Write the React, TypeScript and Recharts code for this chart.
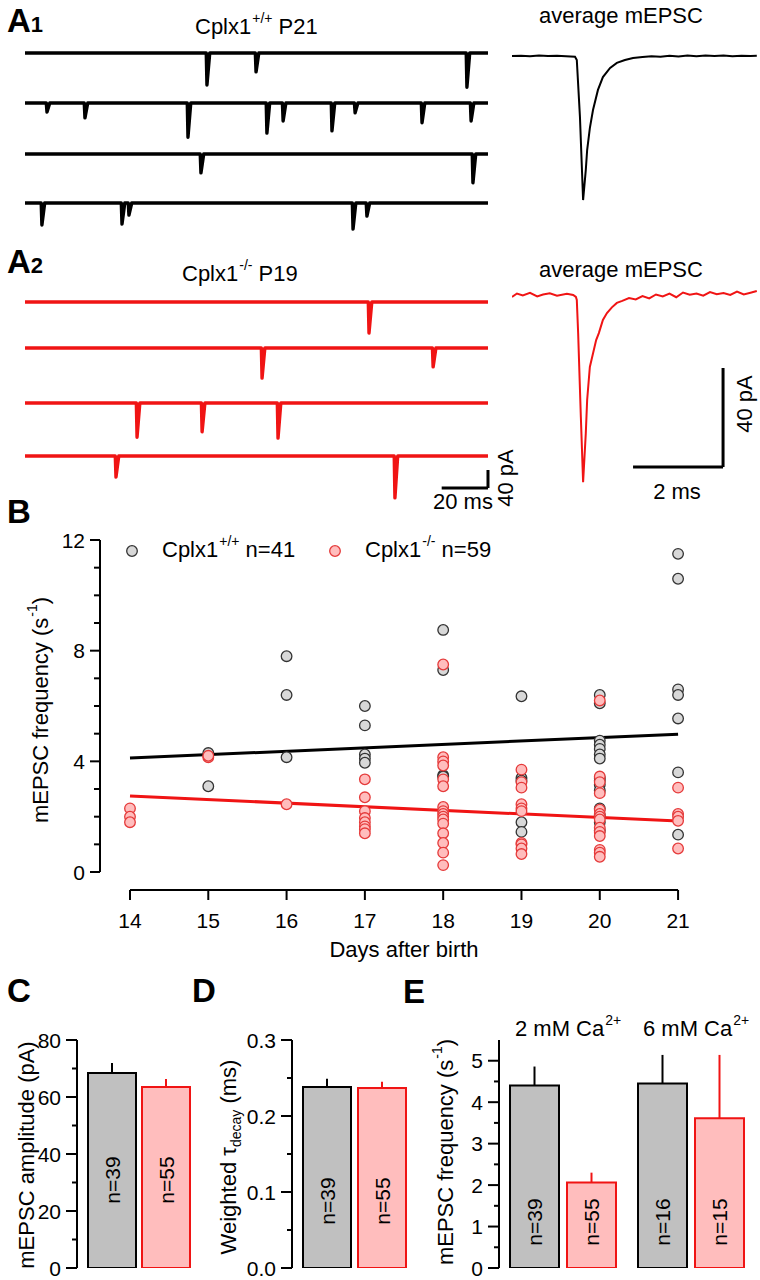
import React from "react";
import {
  LineChart,
  Line,
  XAxis,
  YAxis,
  ReferenceLine,
  ScatterChart,
  Scatter,
  BarChart,
  Bar,
  ErrorBar,
  LabelList,
} from "recharts";

const FONT = "Arial, 'Liberation Sans', Helvetica, sans-serif";
const RED = "#f01414";
const RED_DOT = "#e53a3a";
const RED_FILL = "#ffbdbd";
const GREY_FILL = "#c0c0c0";
const DOT_GREY = "#d8d8d8";

// ---------- A: example traces (event time in ms, amplitude in pA) ----------
const TRACE_MS = 200;
const wtEventTimes = [
  [78.6, 99.8, 190.9],
  [9.5, 25.9, 70.4, 104.5, 111.5, 132.6, 142.6, 171.5, 192.7],
  [76.0, 193.5],
  [7.3, 41.9, 44.9, 141.7, 147.7],
];
const wtEventAmps = [
  [71, 42, 76],
  [20, 33, 76, 67, 40, 62, 22, 44, 40],
  [42, 64],
  [49, 47, 27, 58, 29],
];
const koEventTimes = [[148.6], [102.4, 176.3], [48.4, 76.5, 109.3], [39.3, 159.8]];
const koEventAmps = [[69], [67, 42], [76, 64, 78], [47, 93]];

// average mEPSC, time (ms) / current (pA)
const avgWtT = [0, 0.2, 0.4, 0.6, 0.8, 1.0, 1.2, 1.4, 1.44, 1.51, 1.58, 1.64, 1.67, 1.73, 1.8, 1.91, 2.02, 2.18, 2.33, 2.51, 2.69, 2.9, 3.1, 3.3, 3.5, 3.7, 3.9, 4.1, 4.3, 4.5, 4.7, 4.9, 5.1, 5.3, 5.44];
const avgWtI = [0, 0.15, -0.1, 0.2, 0, 0.1, -0.1, -0.3, -1.6, -24.6, -58.2, -46, -38, -29.1, -21.8, -13.7, -8.5, -4.8, -2.8, -1.6, -0.8, -0.4, -0.1, -0.3, 0.1, -0.2, 0.2, -0.1, 0.2, 0, 0.2, -0.1, 0.1, 0, 0.1];
const avgKoT = [0, 0.11, 0.24, 0.4, 0.56, 0.69, 0.84, 1.0, 1.22, 1.36, 1.42, 1.44, 1.47, 1.53, 1.58, 1.64, 1.67, 1.73, 1.87, 1.93, 2.02, 2.11, 2.22, 2.33, 2.45, 2.6, 2.75, 2.9, 3.05, 3.2, 3.35, 3.5, 3.65, 3.8, 3.95, 4.1, 4.25, 4.4, 4.55, 4.7, 4.85, 5.0, 5.15, 5.3, 5.44];
const avgKoI = [-0.8, 0.6, -0.2, 0.9, -0.6, 0.2, 0.7, -0.3, 0.5, 0, -0.8, -2, -15.4, -49.3, -75.6, -55.8, -42.4, -29.1, -18.2, -15.4, -10.1, -7.3, -5, -3.2, -2.4, -1.2, -1.8, -0.4, -1.4, 0.2, -0.6, 0.6, -0.9, 1.0, 0.1, 0.6, -0.3, 1.2, 0.3, 0.8, 0, 1.4, 0.2, 0.9, 1.6];

// ---------- B: frequency vs age ----------
const days = [14, 15, 16, 17, 18, 19, 20, 21];
const wtDay = [
  15, 15,
  16, 16, 16,
  17, 17, 17, 17, 17,
  18, 18, 18, 18,
  19, 19, 19, 19, 19,
  20, 20, 20, 20, 20, 20, 20, 20, 20, 20, 20, 20, 20, 20, 20,
  21, 21, 21, 21, 21, 21, 21,
];
const wtFreq = [
  4.3, 3.1,
  7.8, 6.4, 4.15,
  6.0, 5.3, 4.25, 4.1, 3.95,
  8.75, 7.3, 3.5, 3.45,
  6.35, 3.4, 3.3, 1.8, 1.45,
  6.4, 6.1, 4.75, 4.6, 4.45, 4.25, 4.1, 3.4, 3.3, 3.15, 2.95, 2.3, 2.05, 1.8, 1.5,
  11.5, 10.6, 6.6, 6.4, 5.55, 3.6, 1.35,
];
const koDay = [
  14, 14, 14,
  15, 15,
  16,
  17, 17, 17, 17, 17, 17, 17, 17,
  18, 18, 18, 18, 18, 18, 18, 18, 18, 18, 18, 18, 18, 18, 18, 18,
  19, 19, 19, 19, 19, 19, 19, 19, 19, 19,
  20, 20, 20, 20, 20, 20, 20, 20, 20, 20, 20, 20, 20, 20,
  21, 21, 21, 21, 21,
];
const koFreq = [
  2.3, 2.0, 1.8,
  4.15, 4.2,
  2.45,
  3.35, 2.7, 2.2, 1.95, 1.8, 1.65, 1.55, 1.4,
  7.5, 4.15, 4.0, 3.85, 3.35, 3.1, 2.35, 2.2, 2.1, 2.0, 1.9, 1.75, 1.4, 1.05, 0.7, 0.25,
  3.7, 3.25, 3.05, 2.45, 2.3, 2.2, 1.05, 1.0, 0.85, 0.65,
  6.2, 3.45, 3.25, 2.85, 2.25, 2.1, 2.0, 1.9, 1.6, 1.45, 1.3, 0.8, 0.7, 0.55,
  3.05, 2.1, 2.0, 1.85, 0.85,
];
const fitDays = [14, 21];
const wtFit = [4.12, 4.98];
const koFit = [2.75, 1.84];
const freqTicks = [0, 1, 2, 3, 4, 5, 6, 7, 8, 9, 10, 11, 12];
const freqMajors = [0, 4, 8, 12];

// ---------- C, D, E: bars ----------
const ampMean = [68.4, 63.5];
const ampSem = [3.5, 2.8];
const ampN = [39, 55];
const ampTicks = [0, 10, 20, 30, 40, 50, 60, 70, 80];
const ampMajors = [0, 20, 40, 60, 80];

const tauMean = [0.238, 0.237];
const tauSem = [0.011, 0.008];
const tauN = [39, 55];
const tauTicks = [0, 0.05, 0.1, 0.15, 0.2, 0.25, 0.3];
const tauMajors = [0, 0.1, 0.2, 0.3];

const caGroups = ["2 mM", "6 mM"];
const caWtMean = [4.4, 4.45];
const caWtSem = [0.46, 0.69];
const caKoMean = [2.06, 3.61];
const caKoSem = [0.24, 1.53];
const caWtN = [39, 16];
const caKoN = [55, 15];
const caTicks = [0, 0.5, 1, 1.5, 2, 2.5, 3, 3.5, 4, 4.5, 5];
const caMajors = [0, 1, 2, 3, 4, 5];

// ---------- helpers ----------
const PX_PER_MS = 463 / TRACE_MS;
const PX_PER_PA = 18 / 40;
const ROW_ABOVE = 12;
const ROW_BELOW = 50;
const TRACE_DOMAIN = 205;

function traceRows(times: number[], amps: number[]) {
  const pts: { t: number; i: number }[] = [{ t: 0, i: 0 }];
  times.forEach((t, k) => {
    pts.push({ t: t - 0.3, i: 0 }, { t, i: -amps[k] }, { t: t + 1.2, i: 0 });
  });
  pts.push({ t: TRACE_MS, i: 0 });
  return pts.sort((a, b) => a.t - b.t);
}

function Txt({ x, y, size = 22, bold = false, anchor = "start", children }: any) {
  const tx = anchor === "middle" ? "translateX(-50%)" : anchor === "end" ? "translateX(-100%)" : "none";
  return (
    <div
      style={{
        position: "absolute",
        left: x,
        top: y - 0.8465 * size,
        fontSize: size,
        lineHeight: `${size}px`,
        fontWeight: bold ? 700 : 400,
        whiteSpace: "nowrap",
        transform: tx,
      }}
    >
      {children}
    </div>
  );
}

function VTxt({ cx, cy, size = 22, children }: any) {
  return (
    <div
      style={{
        position: "absolute",
        left: cx,
        top: cy,
        fontSize: size,
        lineHeight: `${size}px`,
        whiteSpace: "nowrap",
        transform: "translate(-50%, -50%) rotate(-90deg)",
      }}
    >
      {children}
    </div>
  );
}

const Sup = ({ children }: any) => (
  <span style={{ fontSize: 14, verticalAlign: "11px", lineHeight: 0, marginLeft: 1 }}>{children}</span>
);
const Sub = ({ children }: any) => (
  <span style={{ fontSize: 14, verticalAlign: "-5px", lineHeight: 0 }}>{children}</span>
);

function TraceRow({ times, amps, color, baseline, scaleBar }: any) {
  const data = traceRows(times, amps);
  const yDom = [-ROW_BELOW / PX_PER_PA, ROW_ABOVE / PX_PER_PA];
  const barY = -32 / PX_PER_PA;
  return (
    <div style={{ position: "absolute", left: 25, top: baseline - ROW_ABOVE }}>
      <LineChart
        width={TRACE_DOMAIN * PX_PER_MS}
        height={ROW_ABOVE + ROW_BELOW}
        data={data}
        margin={{ top: 0, right: 0, bottom: 0, left: 0 }}
      >
        <XAxis type="number" dataKey="t" domain={[0, TRACE_DOMAIN]} hide allowDataOverflow />
        <YAxis type="number" domain={yDom} hide allowDataOverflow />
        <Line
          type="linear"
          dataKey="i"
          stroke={color}
          strokeWidth={3.4}
          strokeLinejoin="round"
          dot={false}
          isAnimationActive={false}
        />
        {scaleBar && (
          <ReferenceLine
            segment={[{ x: TRACE_MS - 20, y: barY }, { x: TRACE_MS, y: barY }]}
            stroke="#000"
            strokeWidth={3}
            ifOverflow="visible"
          />
        )}
        {scaleBar && (
          <ReferenceLine
            segment={[{ x: TRACE_MS, y: barY }, { x: TRACE_MS, y: barY + 40 }]}
            stroke="#000"
            strokeWidth={3}
            ifOverflow="visible"
          />
        )}
      </LineChart>
    </div>
  );
}

const AVG_PX_PER_MS = 45;
const AVG_PX_PER_PA = 99 / 40;

function AvgTrace({ t, i, color, top, below, scaleBar }: any) {
  const data = t.map((v: number, k: number) => ({ t: v, i: i[k] }));
  const yDom = [-below / AVG_PX_PER_PA, 10 / AVG_PX_PER_PA];
  const cornerT = 4.69;
  const cornerI = -69.5;
  return (
    <div style={{ position: "absolute", left: 512, top }}>
      <LineChart width={245} height={below + 10} data={data} margin={{ top: 0, right: 0, bottom: 0, left: 0 }}>
        <XAxis type="number" dataKey="t" domain={[0, 245 / AVG_PX_PER_MS]} hide allowDataOverflow />
        <YAxis type="number" domain={yDom} hide allowDataOverflow />
        <Line type="linear" dataKey="i" stroke={color} strokeWidth={2} dot={false} isAnimationActive={false} />
        {scaleBar && (
          <ReferenceLine
            segment={[{ x: cornerT - 2, y: cornerI }, { x: cornerT, y: cornerI }]}
            stroke="#000"
            strokeWidth={3}
            ifOverflow="visible"
          />
        )}
        {scaleBar && (
          <ReferenceLine
            segment={[{ x: cornerT, y: cornerI }, { x: cornerT, y: cornerI + 40 }]}
            stroke="#000"
            strokeWidth={3}
            ifOverflow="visible"
          />
        )}
      </LineChart>
    </div>
  );
}

const isMajor = (majors: number[], v: number) => majors.some((m) => Math.abs(m - v) < 1e-9);

const makeYTick = (majors: number[], fmt: (v: number) => string, long: number, short: number, gap: number) =>
  (p: any) => {
    const v = p.payload.value;
    const major = isMajor(majors, v);
    return (
      <g>
        <line x1={p.x - (major ? long : short)} x2={p.x} y1={p.y} y2={p.y} stroke="#000" strokeWidth={2} />
        {major && (
          <text x={p.x - gap} y={p.y} dy="0.36em" textAnchor="end" fontSize={21} fontFamily={FONT} fill="#000">
            {fmt(v)}
          </text>
        )}
      </g>
    );
  };

const XTickB = (p: any) => (
  <g>
    <line x1={p.x} x2={p.x} y1={p.y} y2={p.y + 10} stroke="#000" strokeWidth={2} />
    <text x={p.x} y={p.y + 38} textAnchor="middle" fontSize={21} fontFamily={FONT} fill="#000">
      {p.payload.value}
    </text>
  </g>
);

const Dot = (fill: string, stroke: string) => (p: any) =>
  <circle cx={p.cx} cy={p.cy} r={5.3} fill={fill} stroke={stroke} strokeWidth={1.3} />;

const nLabel = (lift: number) => (p: any) => {
  const vb = p.viewBox && p.viewBox.width !== undefined ? p.viewBox : p;
  const cx = vb.x + vb.width / 2;
  const cy = vb.y + vb.height - lift;
  return (
    <text
      x={cx}
      y={cy}
      transform={`rotate(-90, ${cx}, ${cy})`}
      textAnchor="middle"
      dominantBaseline="central"
      fontSize={21}
      fontFamily={FONT}
      fill="#000"
    >
      {p.value}
    </text>
  );
};

function BarPanel({ rows, left, width, axisW, rightM, domain, ticks, majors, fmt, barSize, barGap, lift }: any) {
  return (
    <div style={{ position: "absolute", left, top: 1020 }}>
      <BarChart
        width={width}
        height={260}
        data={rows}
        margin={{ top: 20, right: rightM, bottom: 12, left: 0 }}
        barSize={barSize}
        barGap={barGap}
      >
        <XAxis type="category" dataKey="k" hide />
        <YAxis
          type="number"
          domain={domain}
          ticks={ticks}
          interval={0}
          width={axisW}
          allowDataOverflow
          axisLine={{ stroke: "#000", strokeWidth: 2 }}
          tickLine={false}
          tickSize={0}
          tickMargin={0}
          tick={makeYTick(majors, fmt, 11, 5, 16)}
        />
        <Bar dataKey="wt" fill={GREY_FILL} stroke="#000" strokeWidth={2} isAnimationActive={false}>
          <ErrorBar dataKey="wtErr" width={0} stroke="#000" strokeWidth={2} direction="y" />
          <LabelList dataKey="wtN" content={nLabel(lift)} />
        </Bar>
        <Bar dataKey="ko" fill={RED_FILL} stroke={RED} strokeWidth={2} isAnimationActive={false}>
          <ErrorBar dataKey="koErr" width={0} stroke={RED} strokeWidth={2} direction="y" />
          <LabelList dataKey="koN" content={nLabel(lift)} />
        </Bar>
      </BarChart>
    </div>
  );
}

export default function App() {
  const wtPts = wtDay.map((d, k) => ({ day: d, freq: wtFreq[k] }));
  const koPts = koDay.map((d, k) => ({ day: d, freq: koFreq[k] }));
  const wtLine = fitDays.map((d, k) => ({ day: d, freq: wtFit[k] }));
  const koLine = fitDays.map((d, k) => ({ day: d, freq: koFit[k] }));

  const ampRows = [
    { k: "amp", wt: ampMean[0], ko: ampMean[1], wtErr: [0, ampSem[0]], koErr: [0, ampSem[1]], wtN: `n=${ampN[0]}`, koN: `n=${ampN[1]}` },
  ];
  const tauRows = [
    { k: "tau", wt: tauMean[0], ko: tauMean[1], wtErr: [0, tauSem[0]], koErr: [0, tauSem[1]], wtN: `n=${tauN[0]}`, koN: `n=${tauN[1]}` },
  ];
  const caRows = caGroups.map((g, k) => ({
    k: g,
    wt: caWtMean[k],
    ko: caKoMean[k],
    wtErr: [0, caWtSem[k]],
    koErr: [0, caKoSem[k]],
    wtN: `n=${caWtN[k]}`,
    koN: `n=${caKoN[k]}`,
  }));

  const xMin = 13.617;
  const yMin = -0.65;

  return (
    <div
      style={{
        position: "absolute",
        left: 0,
        top: 0,
        width: 760,
        height: 1280,
        background: "#fff",
        fontFamily: FONT,
        color: "#000",
        overflow: "hidden",
      }}
    >
      {/* A1 */}
      <Txt x={7} y={32} size={33} bold>
        A<span style={{ fontSize: 22 }}>1</span>
      </Txt>
      <Txt x={195} y={35}>
        Cplx1<Sup>+/+</Sup> P21
      </Txt>
      {[53, 103, 154, 203].map((b, k) => (
        <TraceRow key={k} times={wtEventTimes[k]} amps={wtEventAmps[k]} color="#000" baseline={b} />
      ))}
      <Txt x={621} y={24} anchor="middle">average mEPSC</Txt>
      <AvgTrace t={avgWtT} i={avgWtI} color="#000" top={46} below={150} />

      {/* A2 */}
      <Txt x={7} y={273} size={33} bold>
        A<span style={{ fontSize: 22 }}>2</span>
      </Txt>
      <Txt x={182} y={282}>
        Cplx1<Sup>-/-</Sup> P19
      </Txt>
      {[302, 348, 403, 456].map((b, k) => (
        <TraceRow key={k} times={koEventTimes[k]} amps={koEventAmps[k]} color={RED} baseline={b} scaleBar={k === 3} />
      ))}
      <Txt x={463} y={510} anchor="middle">20 ms</Txt>
      <VTxt cx={506} cy={478}>40 pA</VTxt>
      <Txt x={621} y={278} anchor="middle">average mEPSC</Txt>
      <AvgTrace t={avgKoT} i={avgKoI} color={RED} top={285} below={190} scaleBar />
      <Txt x={677} y={500} anchor="middle">2 ms</Txt>
      <VTxt cx={745} cy={404}>40 pA</VTxt>

      {/* B */}
      <Txt x={7} y={523} size={33} bold>B</Txt>
      <VTxt cx={41} cy={710}>
        mEPSC frequency (s<Sup>-1</Sup>)
      </VTxt>
      <div style={{ position: "absolute", left: 0, top: 500 }}>
        <ScatterChart width={760} height={440} margin={{ top: 40, right: 51, bottom: 0, left: 40 }}>
          <XAxis
            type="number"
            dataKey="day"
            domain={[xMin, 21.395]}
            ticks={days}
            interval={0}
            allowDataOverflow
            axisLine={false}
            tickLine={false}
            tickSize={0}
            tickMargin={0}
            height={50}
            tick={XTickB}
          />
          <YAxis
            type="number"
            dataKey="freq"
            domain={[yMin, 12]}
            ticks={freqTicks}
            interval={0}
            allowDataOverflow
            axisLine={false}
            tickLine={false}
            tickSize={0}
            tickMargin={0}
            width={60}
            tick={makeYTick(freqMajors, (v) => String(v), 10, 6, 15)}
          />
          <ReferenceLine segment={[{ x: xMin, y: 0 }, { x: xMin, y: 12 }]} stroke="#000" strokeWidth={2} ifOverflow="visible" />
          <ReferenceLine segment={[{ x: 14, y: yMin }, { x: 21, y: yMin }]} stroke="#000" strokeWidth={2} ifOverflow="visible" />
          <Scatter data={wtLine} line={{ stroke: "#000", strokeWidth: 3 }} shape={() => <g />} isAnimationActive={false} />
          <Scatter data={koLine} line={{ stroke: RED, strokeWidth: 3 }} shape={() => <g />} isAnimationActive={false} />
          <Scatter data={wtPts} shape={Dot(DOT_GREY, "#333")} isAnimationActive={false} />
          <Scatter data={koPts} shape={Dot(RED_FILL, RED_DOT)} isAnimationActive={false} />
        </ScatterChart>
      </div>
      {/* legend */}
      <svg style={{ position: "absolute", left: 0, top: 540 }} width={360} height={24}>
        <circle cx={132} cy={11} r={5.3} fill={DOT_GREY} stroke="#333" strokeWidth={1.3} />
        <circle cx={335} cy={11} r={5.3} fill={RED_FILL} stroke={RED_DOT} strokeWidth={1.3} />
      </svg>
      <Txt x={162} y={558}>
        Cplx1<Sup>+/+</Sup> n=41
      </Txt>
      <Txt x={365} y={558}>
        Cplx1<Sup>-/-</Sup> n=59
      </Txt>
      <Txt x={404} y={958} anchor="middle">Days after birth</Txt>

      {/* C */}
      <Txt x={7} y={1002} size={33} bold>C</Txt>
      <VTxt cx={27} cy={1155}>mEPSC amplitude (pA)</VTxt>
      <BarPanel
        rows={ampRows}
        left={0}
        width={215}
        axisW={77}
        rightM={14}
        domain={[0, 80]}
        ticks={ampTicks}
        majors={ampMajors}
        fmt={(v: number) => String(v)}
        barSize={48}
        barGap={6}
        lift={88}
      />

      {/* D */}
      <Txt x={192} y={1002} size={33} bold>D</Txt>
      <VTxt cx={229} cy={1157}>
        Weighted τ<Sub>decay</Sub> (ms)
      </VTxt>
      <BarPanel
        rows={tauRows}
        left={215}
        width={215}
        axisW={77}
        rightM={13}
        domain={[0, 0.3]}
        ticks={tauTicks}
        majors={tauMajors}
        fmt={(v: number) => v.toFixed(1)}
        barSize={48}
        barGap={7}
        lift={67}
      />

      {/* E */}
      <Txt x={403} y={1003} size={33} bold>E</Txt>
      <Txt x={515} y={1037}>
        2 mM Ca<Sup>2+</Sup>
      </Txt>
      <Txt x={643} y={1037}>
        6 mM Ca<Sup>2+</Sup>
      </Txt>
      <VTxt cx={446} cy={1152}>
        mEPSC frequency (s<Sup>-1</Sup>)
      </VTxt>
      <BarPanel
        rows={caRows}
        left={430}
        width={330}
        axisW={69}
        rightM={5}
        domain={[0, 5.5]}
        ticks={caTicks}
        majors={caMajors}
        fmt={(v: number) => String(v)}
        barSize={49}
        barGap={8}
        lift={46}
      />
    </div>
  );
}
